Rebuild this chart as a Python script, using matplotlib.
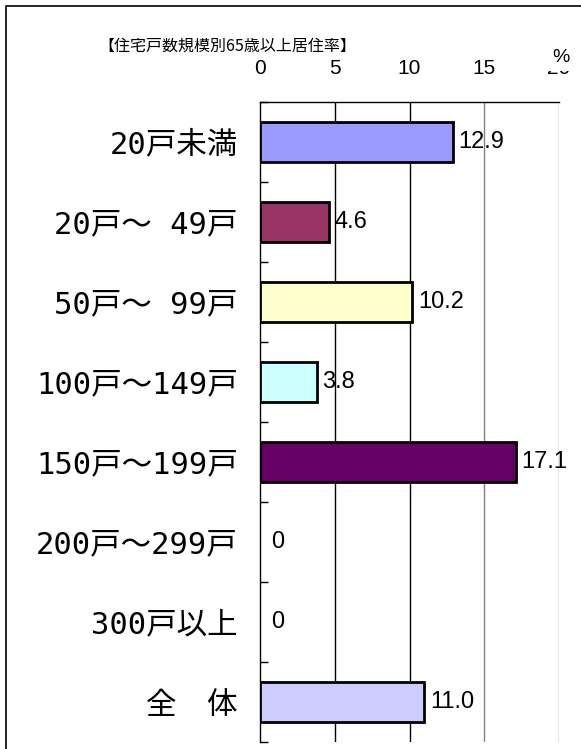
import numpy as np
import matplotlib.pyplot as plt
from matplotlib.patches import Rectangle

plt.rcParams['font.family'] = ['Noto Sans CJK JP', 'DejaVu Sans']

categories = ["20戸未満", "20戸～ 49戸", "50戸～ 99戸", "100戸～149戸",
              "150戸～199戸", "200戸～299戸", "300戸以上", "全　体"]
values = [12.9, 4.6, 10.2, 3.8, 17.1, 0, 0, 11.0]
value_labels = ["12.9", "4.6", "10.2", "3.8", "17.1", "0", "0", "11.0"]
colors = ["#9999FF", "#993366", "#FFFFCC", "#CCFFFF", "#660066",
          "#FFFFFF", "#FFFFFF", "#CCCCFF"]
xticks = [0, 5, 10, 15, 20]

cat_font = ['DejaVu Sans Mono', 'Noto Sans CJK JP']
num_font = ['Liberation Sans Narrow', 'Liberation Sans', 'DejaVu Sans']

fig = plt.figure(figsize=(5.81, 7.49), dpi=100)
W, H = 581, 749

# outer frame of the chart area
fig.add_artist(Rectangle((6 / W, -0.1), 1.1, 1.1 - 6 / H,
                         transform=fig.transFigure, fill=False,
                         edgecolor="black", linewidth=1.2))

ax = fig.add_axes([260 / W, 7 / H, 299 / W, 640 / H])
y = np.arange(len(categories))
lw = [2 if v > 0 else 0 for v in values]
ax.barh(y, values, height=0.5, color=colors, edgecolor="black", linewidth=lw,
        zorder=3)
ax.set_xlim(0, 20)
ax.set_ylim(len(categories) - 0.5, -0.5)

ax.xaxis.tick_top()
ax.set_xticks(xticks)
ax.set_xticklabels([str(t) for t in xticks], fontsize=15, family=num_font)
ax.tick_params(axis="x", length=0, pad=17)
for t in xticks[1:]:
    ax.axvline(t, color="black" if t < 15 else "#808080", linewidth=1,
               zorder=1)

ax.set_yticks(y)
ax.set_yticklabels(categories, fontsize=22, family=cat_font)
ax.tick_params(axis="y", which="major", length=0, pad=16)
ax.set_yticks(np.arange(-0.5, len(categories)), minor=True)
ax.tick_params(axis="y", which="minor", direction="in", length=6, width=1)

for s in ["bottom", "right"]:
    ax.spines[s].set_visible(False)
ax.spines["left"].set_linewidth(1)
ax.spines["top"].set_linewidth(1)

for yi, v, lab in zip(y, values, value_labels):
    ax.annotate(lab, (v, yi), xytext=(4 if v > 0 else 8, 0),
                textcoords="offset points", va="center", ha="left",
                fontsize=17, family=num_font, zorder=4)

fig.text(98 / W, 1 - 46 / H, "【住宅戸数規模別65歳以上居住率】",
         fontsize=11.5, va="center", ha="left")
fig.text(561 / W, 1 - 58 / H, "%", fontsize=14, va="center", ha="center",
         family=num_font,
         bbox=dict(facecolor="white", edgecolor="none", pad=3))

fig.savefig("out.png", dpi=100)
